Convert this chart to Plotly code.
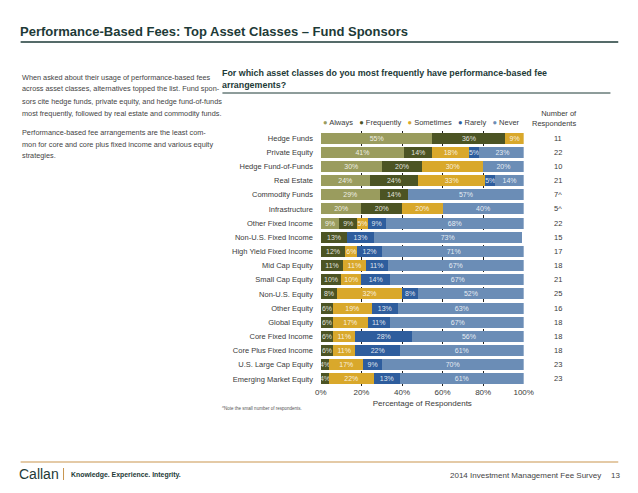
import plotly.graph_objects as go

W, H = 638, 493

categories = ["Hedge Funds", "Private Equity", "Hedge Fund-of-Funds", "Real Estate",
              "Commodity Funds", "Infrastructure", "Other Fixed Income", "Non-U.S. Fixed Income",
              "High Yield Fixed Income", "Mid Cap Equity", "Small Cap Equity", "Non-U.S. Equity",
              "Other Equity", "Global Equity", "Core Fixed Income", "Core Plus Fixed Income",
              "U.S. Large Cap Equity", "Emerging Market Equity"]
always     = [55, 41, 30, 24, 29, 20, 9, 0, 0, 0, 0, 0, 0, 0, 0, 0, 0, 0]
frequently = [36, 14, 20, 24, 14, 20, 9, 13, 12, 11, 10, 8, 6, 6, 6, 6, 4, 4]
sometimes  = [9, 18, 30, 33, 0, 20, 5, 0, 6, 11, 10, 32, 19, 17, 11, 11, 17, 22]
rarely     = [0, 5, 0, 5, 0, 0, 9, 13, 12, 11, 14, 8, 13, 11, 28, 22, 9, 13]
never      = [0, 23, 20, 14, 57, 40, 68, 73, 71, 67, 67, 52, 63, 67, 56, 61, 70, 61]
respondents = ["11", "22", "10", "21", "7^", "5^", "22", "15", "17", "18", "21", "25",
               "16", "18", "18", "18", "23", "23"]
series_names = ["Always", "Frequently", "Sometimes", "Rarely", "Never"]
x_ticks = [0, 20, 40, 60, 80, 100]
x_tick_labels = ["0%", "20%", "40%", "60%", "80%", "100%"]

colors = ["#9a9c5e", "#4c5424", "#d9a82b", "#2e5d9d", "#6b8db6"]
series = [always, frequently, sometimes, rarely, never]

FONT = "Liberation Sans, Arial, sans-serif"
NARROW = "Liberation Sans Narrow, Arial Narrow, Liberation Sans, Arial, sans-serif"
DARK = "#1d3a37"
GRAY = "#3a3a3a"

def px(x):
    return x / W

def py(y):
    return 1 - y / H

fig = go.Figure()
for name, vals, col in zip(series_names, series, colors):
    fig.add_trace(go.Bar(
        y=categories, x=vals, orientation="h", name=name,
        marker=dict(color=col, line=dict(width=0)),
        text=[f"{v}%" if v > 0 else "" for v in vals],
        textposition="inside", insidetextanchor="middle", textangle=0,
        textfont=dict(color="rgba(255,255,255,0.85)", size=7, family=FONT),
        showlegend=False, hoverinfo="skip",
    ))

fig.update_layout(
    width=W, height=H,
    margin=dict(l=0, r=0, t=0, b=0),
    paper_bgcolor="white", plot_bgcolor="white",
    barmode="stack", bargap=0.22,
    font=dict(family=FONT, color=GRAY, size=8),
    uniformtext=dict(minsize=7, mode="show"),
    showlegend=False,
    xaxis=dict(
        domain=[px(323), px(531)], range=[0, 100],
        tickvals=x_ticks, ticktext=x_tick_labels,
        showgrid=True, gridcolor="#222", griddash="dot", gridwidth=1,
        zeroline=False, showline=False, ticks="",
        tickfont=dict(size=8, color=GRAY),
        title=dict(text="Percentage of Respondents", font=dict(size=8, color=GRAY), standoff=4),
    ),
    yaxis=dict(
        domain=[py(386), py(131)],
        categoryorder="array", categoryarray=categories[::-1],
        showgrid=False, zeroline=False, ticks="", ticklabelstandoff=7,
        tickfont=dict(size=7.5, color=GRAY),
    ),
)

annotations = []
# legend (coloured dots + labels) in one line
sp = "&nbsp;" * 3
legend_text = sp.join(f"<span style='color:{c}'>\u25CF</span> {n}"
                      for n, c in zip(series_names, colors))
annotations.append(dict(x=px(426), y=py(122), xref="paper", yref="paper",
                        text=legend_text, showarrow=False, xanchor="center", yanchor="middle",
                        font=dict(size=7.5, color=GRAY)))

# respondents column
for cat, n in zip(categories, respondents):
    annotations.append(dict(x=px(560), xref="paper", y=cat, yref="y", text=n,
                            showarrow=False, xanchor="left", font=dict(size=7.5, color=GRAY)))
annotations.append(dict(x=px(563), y=py(107), xref="paper", yref="paper",
                        text="Number of<br>Respondents", showarrow=False, align="right",
                        xanchor="center", yanchor="top", font=dict(size=7.5, color=GRAY)))

# title
annotations.append(dict(x=px(12), y=py(31), xref="paper", yref="paper",
                        text="<b>Performance-Based Fees: Top Asset Classes \u2013 Fund Sponsors</b>",
                        showarrow=False, xanchor="left", yanchor="middle",
                        font=dict(size=13, color=DARK, family=NARROW)))
# subtitle
annotations.append(dict(x=px(219), y=py(66), xref="paper", yref="paper",
                        text="<b>For which asset classes do you most frequently have performance-based fee<br>arrangements?</b>",
                        showarrow=False, xanchor="left", yanchor="top", align="left",
                        font=dict(size=8.9, color=DARK)))

para1 = [
    "When asked about their usage of performance-based fees",
    "across asset classes, alternatives topped the list. Fund spon-",
    "sors cite hedge funds, private equity, and hedge fund-of-funds",
    "most frequently, followed by real estate and commodity funds.",
]
para2 = [
    "Performance-based fee arrangements are the least com-",
    "mon for core and core plus fixed income and various equity",
    "strategies.",
]
for start, lines in ((77, para1), (132, para2)):
    for i, line in enumerate(lines):
        annotations.append(dict(x=px(14), y=py(start + i * 12), xref="paper", yref="paper",
                                text=line, showarrow=False, xanchor="left", yanchor="middle",
                                font=dict(size=7.3, color="#444")))

annotations.append(dict(x=px(220), y=py(408), xref="paper", yref="paper",
                        text="^Note the small number of respondents.", showarrow=False,
                        xanchor="left", yanchor="middle", font=dict(size=4.5, color="#555")))

# footer
annotations.append(dict(x=px(11), y=py(474), xref="paper", yref="paper", text="Callan",
                        showarrow=False, xanchor="left", yanchor="middle",
                        font=dict(size=14, color=DARK)))
annotations.append(dict(x=px(65), y=py(475), xref="paper", yref="paper",
                        text="<b>Knowledge. Experience. Integrity.</b>",
                        showarrow=False, xanchor="left", yanchor="middle",
                        font=dict(size=6.9, color=DARK)))
annotations.append(dict(x=px(612), y=py(475), xref="paper", yref="paper",
                        text="2014 Investment Management Fee Survey",
                        showarrow=False, xanchor="right", yanchor="middle",
                        font=dict(size=8, color="#444")))
annotations.append(dict(x=px(632), y=py(475), xref="paper", yref="paper", text="13",
                        showarrow=False, xanchor="right", yanchor="middle",
                        font=dict(size=8, color="#444")))

shapes = [
    dict(type="line", xref="paper", yref="paper", x0=px(15), x1=px(628), y0=py(42), y1=py(42),
         line=dict(color=DARK, width=1.5)),
    dict(type="line", xref="paper", yref="paper", x0=px(222), x1=px(620), y0=py(93), y1=py(93),
         line=dict(color=DARK, width=1)),
    dict(type="line", xref="paper", yref="paper", x0=px(15), x1=px(628), y0=py(462), y1=py(462),
         line=dict(color="#c9964f", width=1.2)),
    dict(type="line", xref="paper", yref="paper", x0=px(59), x1=px(59), y0=py(468), y1=py(480),
         line=dict(color="#c9964f", width=1)),
]

fig.update_layout(annotations=annotations, shapes=shapes)
fig.write_html("out.html", config={"displayModeBar": False},
               post_script="document.body.style.margin='0';document.body.style.overflow='hidden';")
